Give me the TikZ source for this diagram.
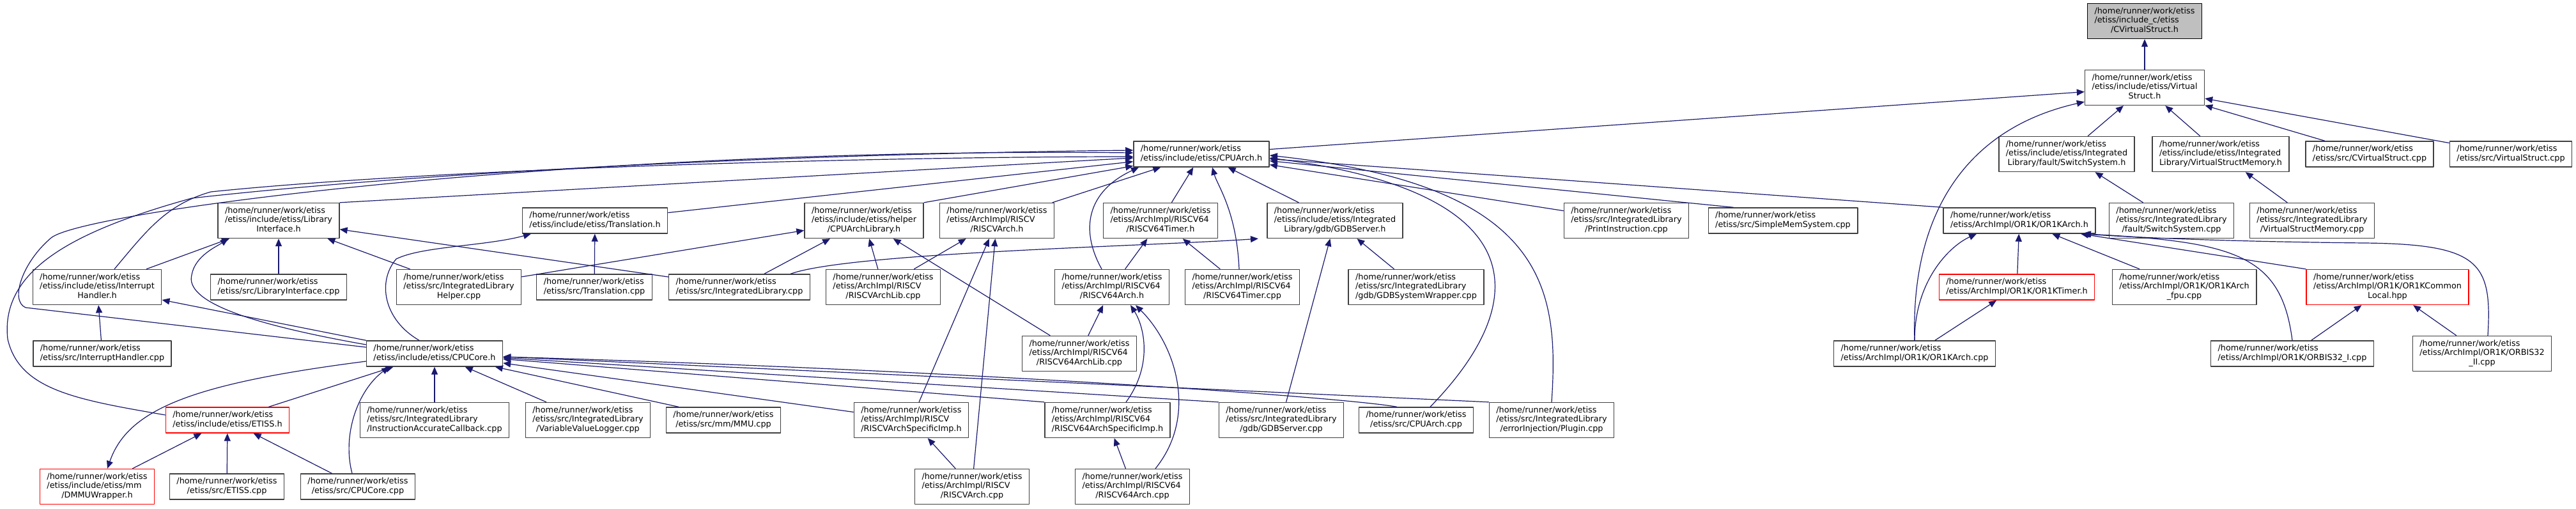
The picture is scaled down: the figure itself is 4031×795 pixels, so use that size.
\documentclass[tikz,border=0pt]{standalone}
\usepackage{fontspec}
\setmainfont{DejaVu Sans}
\usetikzlibrary{arrows.meta}

\definecolor{edgeblue}{HTML}{191970}
\definecolor{rootgray}{HTML}{BFBFBF}

% Label macros: upper lines left aligned, last line centred
\newcommand{\lbltwo}[1]{%
  \begin{tabular}{@{}l@{}}/home/runner/work/etiss\\\multicolumn{1}{@{}c@{}}{#1}\end{tabular}}
\newcommand{\lblthree}[2]{%
  \begin{tabular}{@{}l@{}}/home/runner/work/etiss\\#1\\\multicolumn{1}{@{}c@{}}{#2}\end{tabular}}

\begin{document}
\begin{tikzpicture}[x=1pt, y=-1pt, line join=round,
    file/.style={draw=black!75, fill=white, line width=1.4pt, inner xsep=11pt,
      inner ysep=0pt, minimum height=55pt, font=\fontsize{12.8}{14.7}\selectfont},
    filetwo/.style={file, minimum height=40pt},
    redbox/.style={draw=red},
    inc/.style={draw=edgeblue, line width=1.2pt, -{Triangle[length=12pt, width=10pt]}}]

    \useasboundingbox (0,0) rectangle (4031,795);

    % 1. Define the file nodes, one row after the other
    \node[file, fill=rootgray, draw=black] (root) at (3356,33) {\lblthree{/etiss/include\_c/etiss}{/CVirtualStruct.h}};

    \node[file] (vs) at (3356,137) {\lblthree{/etiss/include/etiss/Virtual}{Struct.h}};

    \node[filetwo] (cpuarch) at (1880,241) {\lbltwo{/etiss/include/etiss/CPUArch.h}};
    \node[file] (swsysh) at (3234,241) {\lblthree{/etiss/include/etiss/Integrated}{Library/fault/SwitchSystem.h}};
    \node[file] (vsmemh) at (3475,241) {\lblthree{/etiss/include/etiss/Integrated}{Library/VirtualStructMemory.h}};
    \node[filetwo] (cvscpp) at (3708,241) {\lbltwo{/etiss/src/CVirtualStruct.cpp}};
    \node[filetwo] (vscpp) at (3929,241) {\lbltwo{/etiss/src/VirtualStruct.cpp}};

    \node[file] (libifh) at (436,345) {\lblthree{/etiss/include/etiss/Library}{Interface.h}};
    \node[filetwo] (transh) at (931,345) {\lbltwo{/etiss/include/etiss/Translation.h}};
    \node[file] (archlib) at (1352,345) {\lblthree{/etiss/include/etiss/helper}{/CPUArchLibrary.h}};
    \node[file] (rvarchh) at (1560,345) {\lblthree{/etiss/ArchImpl/RISCV}{/RISCVArch.h}};
    \node[file] (rv64timerh) at (1816,345) {\lblthree{/etiss/ArchImpl/RISCV64}{/RISCV64Timer.h}};
    \node[file] (gdbh) at (2089,345) {\lblthree{/etiss/include/etiss/Integrated}{Library/gdb/GDBServer.h}};
    \node[file] (printcpp) at (2545,345) {\lblthree{/etiss/src/IntegratedLibrary}{/PrintInstruction.cpp}};
    \node[filetwo] (memcpp) at (2790,345) {\lbltwo{/etiss/src/SimpleMemSystem.cpp}};
    \node[filetwo] (orarchh) at (3160,345) {\lbltwo{/etiss/ArchImpl/OR1K/OR1KArch.h}};
    \node[file] (swsyscpp) at (3398,345) {\lblthree{/etiss/src/IntegratedLibrary}{/fault/SwitchSystem.cpp}};
    \node[file] (vsmemcpp) at (3618,345) {\lblthree{/etiss/src/IntegratedLibrary}{/VirtualStructMemory.cpp}};

    \node[file] (irqh) at (152,449) {\lblthree{/etiss/include/etiss/Interrupt}{Handler.h}};
    \node[filetwo] (libifcpp) at (436,449) {\lbltwo{/etiss/src/LibraryInterface.cpp}};
    \node[file] (helpercpp) at (718,449) {\lblthree{/etiss/src/IntegratedLibrary}{Helper.cpp}};
    \node[filetwo] (transcpp) at (930,449) {\lbltwo{/etiss/src/Translation.cpp}};
    \node[filetwo] (ilibcpp) at (1157,449) {\lbltwo{/etiss/src/IntegratedLibrary.cpp}};
    \node[file] (rvlibcpp) at (1382,449) {\lblthree{/etiss/ArchImpl/RISCV}{/RISCVArchLib.cpp}};
    \node[file] (rv64archh) at (1740,449) {\lblthree{/etiss/ArchImpl/RISCV64}{/RISCV64Arch.h}};
    \node[file] (rv64timercpp) at (1944,449) {\lblthree{/etiss/ArchImpl/RISCV64}{/RISCV64Timer.cpp}};
    \node[file] (gdbwrapcpp) at (2216,449) {\lblthree{/etiss/src/IntegratedLibrary}{/gdb/GDBSystemWrapper.cpp}};
    \node[filetwo, redbox] (ortimerh) at (3156,449) {\lbltwo{/etiss/ArchImpl/OR1K/OR1KTimer.h}};
    \node[file] (orfpucpp) at (3418,449) {\lblthree{/etiss/ArchImpl/OR1K/OR1KArch}{\_fpu.cpp}};
    \node[file, redbox] (orlocalh) at (3736,449) {\lblthree{/etiss/ArchImpl/OR1K/OR1KCommon}{Local.hpp}};

    \node[filetwo] (irqcpp) at (160,553) {\lbltwo{/etiss/src/InterruptHandler.cpp}};
    \node[filetwo] (coreh) at (680,553) {\lbltwo{/etiss/include/etiss/CPUCore.h}};
    \node[file] (rv64libcpp) at (1689,553) {\lblthree{/etiss/ArchImpl/RISCV64}{/RISCV64ArchLib.cpp}};
    \node[filetwo] (orarchcpp) at (2996,553) {\lbltwo{/etiss/ArchImpl/OR1K/OR1KArch.cpp}};
    \node[filetwo] (orbisicpp) at (3587,553) {\lbltwo{/etiss/ArchImpl/OR1K/ORBIS32\_I.cpp}};
    \node[file] (orbisiicpp) at (3884,553) {\lblthree{/etiss/ArchImpl/OR1K/ORBIS32}{\_II.cpp}};

    \node[filetwo, redbox] (etissh) at (356,657) {\lbltwo{/etiss/include/etiss/ETISS.h}};
    \node[file] (iacbcpp) at (680,657) {\lblthree{/etiss/src/IntegratedLibrary}{/InstructionAccurateCallback.cpp}};
    \node[file] (vvlogcpp) at (920,657) {\lblthree{/etiss/src/IntegratedLibrary}{/VariableValueLogger.cpp}};
    \node[filetwo] (mmucpp) at (1132,657) {\lbltwo{/etiss/src/mm/MMU.cpp}};
    \node[file] (rvspech) at (1426,657) {\lblthree{/etiss/ArchImpl/RISCV}{/RISCVArchSpecificImp.h}};
    \node[file] (rv64spech) at (1733,657) {\lblthree{/etiss/ArchImpl/RISCV64}{/RISCV64ArchSpecificImp.h}};
    \node[file] (gdbcpp) at (2005,657) {\lblthree{/etiss/src/IntegratedLibrary}{/gdb/GDBServer.cpp}};
    \node[filetwo] (archcpp) at (2216,657) {\lbltwo{/etiss/src/CPUArch.cpp}};
    \node[file] (plugincpp) at (2428,657) {\lblthree{/etiss/src/IntegratedLibrary}{/errorInjection/Plugin.cpp}};

    \node[file, redbox] (dmmuh) at (152,761) {\lblthree{/etiss/include/etiss/mm}{/DMMUWrapper.h}};
    \node[filetwo] (etisscpp) at (355,761) {\lbltwo{/etiss/src/ETISS.cpp}};
    \node[filetwo] (corecpp) at (560,761) {\lbltwo{/etiss/src/CPUCore.cpp}};
    \node[file] (rvarchcpp) at (1521,761) {\lblthree{/etiss/ArchImpl/RISCV}{/RISCVArch.cpp}};
    \node[file] (rv64archcpp) at (1772,761) {\lblthree{/etiss/ArchImpl/RISCV64}{/RISCV64Arch.cpp}};

    % 2. Edges into CVirtualStruct.h and VirtualStruct.h
    \draw[inc] (vs) -- (root);
    \draw[inc] (cpuarch) -- (vs);
    \draw[inc] (swsysh) -- (vs);
    \draw[inc] (vsmemh) -- (vs);
    \draw[inc] (cvscpp) -- (vs);
    \draw[inc] (vscpp) -- (vs);
    \draw[inc] (orarchcpp.north) .. controls (2990,330) and (3080,200) .. ([yshift=6pt]vs.south west);
    \draw[inc] (swsyscpp) -- (swsysh);
    \draw[inc] (vsmemcpp) -- (vsmemh);

    % 3. Edges into CPUArch.h
    \draw[inc] (libifh.north east) -- (cpuarch);
    \draw[inc] (transh) -- (cpuarch);
    \draw[inc] (archlib.north east) -- (cpuarch);
    \draw[inc] (rvarchh) -- (cpuarch);
    \draw[inc] (rv64timerh) -- (cpuarch);
    \draw[inc] (gdbh) -- (cpuarch);
    \draw[inc] (printcpp) -- (cpuarch);
    \draw[inc] ([xshift=40pt]memcpp.north west) -- (cpuarch);
    \draw[inc] (orarchh.north west) -- (cpuarch);
    \draw[inc] ([xshift=27pt]irqh.north) .. controls (230,360) and (260,320) .. (330,300)
        .. controls (700,262) and (1400,245) .. ([yshift=-4pt]cpuarch.west);
    \draw[inc] ([yshift=10pt]coreh.west) -- (40,481) .. controls (15,470) and (35,410) .. (80,372)
        .. controls (130,330) and (900,230) .. ([yshift=2pt]cpuarch.west);
    \draw[inc] ([yshift=8pt]etissh.west) .. controls (120,625) and (30,610) .. (12,530)
        .. controls (0,420) and (120,360) .. (300,310) .. controls (700,265) and (1300,240) .. ([yshift=6pt]cpuarch.west);
    \draw[inc] ([xshift=-16pt]rv64archh.north) .. controls (1690,360) and (1700,300) .. ([xshift=-98pt]cpuarch.south);
    \draw[inc] ([xshift=-5pt]rv64timercpp.north) .. controls (1935,330) and (1905,290) .. ([xshift=17pt]cpuarch.south);
    \draw[inc] ([xshift=22pt]archcpp.north) .. controls (2400,470) and (2400,300) .. ([yshift=-6pt]cpuarch.east);
    \draw[inc] (plugincpp.north) .. controls (2440,450) and (2420,290) .. ([yshift=-2pt]cpuarch.east);

    % 4. Edges into LibraryInterface.h and Translation.h
    \draw[inc] (libifcpp) -- (libifh);
    \draw[inc] (irqh) -- (libifh);
    \draw[inc] (helpercpp) -- (libifh);
    \draw[inc] (ilibcpp) -- (libifh);
    \draw[inc] ([yshift=14pt]coreh.west) .. controls (380,505) and (290,470) .. (300,430)
        .. controls (305,400) and (340,385) .. ([xshift=-79pt]libifh.south);
    \draw[inc] (transcpp) -- (transh);
    \draw[inc] ([xshift=-24pt]coreh.north) .. controls (600,500) and (590,440) .. (620,405)
        .. controls (660,385) and (760,385) .. ([xshift=-100pt]transh.south);

    % 5. Edges into CPUArchLibrary.h, RISCVArch.h and RISCV64Timer.h
    \draw[inc] (helpercpp) -- (archlib);
    \draw[inc] (ilibcpp) -- (archlib);
    \draw[inc] (rvlibcpp) -- (archlib);
    \draw[inc] (rv64libcpp) -- (archlib);
    \draw[inc] (rvlibcpp) -- (rvarchh);
    \draw[inc] (rvspech) -- (rvarchh);
    \draw[inc] (rvarchcpp) -- (rvarchh);
    \draw[inc] (rv64archh) -- (rv64timerh);
    \draw[inc] (rv64timercpp) -- (rv64timerh);

    % 6. Edges into GDBServer.h
    \draw[inc] ([xshift=80pt]ilibcpp.north) .. controls (1330,395) and (1800,385) .. ([xshift=-120pt]gdbh.south);
    \draw[inc] (gdbwrapcpp) -- (gdbh);
    \draw[inc] (gdbcpp) -- (gdbh);

    % 7. Edges into the OR1K headers
    \draw[inc] (ortimerh) -- (orarchh);
    \draw[inc] (orarchcpp.north) .. controls (2996,440) and (3050,385) .. ([xshift=-67pt]orarchh.south);
    \draw[inc] (orfpucpp) -- (orarchh);
    \draw[inc] (orlocalh.north west) -- ([xshift=96pt]orarchh.south);
    \draw[inc] (orbisicpp.north) .. controls (3570,400) and (3500,378) .. ([xshift=100pt]orarchh.south);
    \draw[inc] ([xshift=9pt]orbisiicpp.north) .. controls (3900,410) and (3880,382) .. (3700,380)
        .. controls (3500,378) and (3350,372) .. ([xshift=98pt]orarchh.south);
    \draw[inc] (orarchcpp) -- (ortimerh);
    \draw[inc] (orbisicpp) -- (orlocalh);
    \draw[inc] (orbisiicpp) -- (orlocalh);

    % 8. Edges into the RISCV64 headers
    \draw[inc] (rv64libcpp) -- (rv64archh);
    \draw[inc] ([xshift=29pt]rv64spech.north) .. controls (1805,570) and (1790,510) .. ([xshift=29pt]rv64archh.south);
    \draw[inc] ([xshift=36pt]rv64archcpp.north) .. controls (1875,650) and (1840,540) .. ([xshift=37pt]rv64archh.south);
    \draw[inc] (rv64archcpp) -- (rv64spech);
    \draw[inc] (rvarchcpp) -- (rvspech);

    % 9. Edges into CPUCore.h
    \draw[inc] (iacbcpp) -- (coreh);
    \draw[inc] (vvlogcpp) -- (coreh);
    \draw[inc] ([xshift=-70pt]mmucpp.north) -- (coreh);
    \draw[inc] (rvspech) -- (coreh);
    \draw[inc] (rv64spech.north west) -- (coreh);
    \draw[inc] (gdbcpp.north west) -- (coreh);
    \draw[inc] ([xshift=-30pt]archcpp.north) .. controls +(-90,-16) and +(700,20) .. ([yshift=-5pt]coreh.east);
    \draw[inc] (plugincpp.north west) -- (coreh);
    \draw[inc] (etissh) -- (coreh);
    \draw[inc] ([xshift=-9pt]corecpp.north) .. controls (535,680) and (560,610) .. ([xshift=-71pt]coreh.south);

    % 10. Edges into InterruptHandler.h, ETISS.h and DMMUWrapper.h
    \draw[inc] (irqcpp) -- (irqh);
    \draw[inc] (coreh.north west) -- (irqh);
    \draw[inc] (dmmuh) -- (etissh);
    \draw[inc] (etisscpp) -- (etissh);
    \draw[inc] (corecpp) -- (etissh);
    \draw[inc] ([yshift=-12pt]coreh.west) .. controls (300,600) and (200,640) .. ([xshift=16pt]dmmuh.north);

\end{tikzpicture}
\end{document}
